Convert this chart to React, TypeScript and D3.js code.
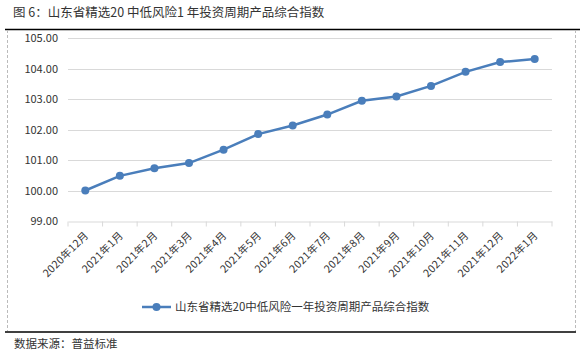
import { useRef, useEffect } from "react";
import * as d3 from "d3";

const categories = [
  "2020年12月", "2021年1月", "2021年2月", "2021年3月", "2021年4月", "2021年5月", "2021年6月",
  "2021年7月", "2021年8月", "2021年9月", "2021年10月", "2021年11月", "2021年12月", "2022年1月",
];
const indexValues = [
  100.0, 100.48, 100.73, 100.9, 101.34, 101.85, 102.13,
  102.49, 102.94, 103.08, 103.43, 103.89, 104.21, 104.31,
];
const yTicks = [99, 100, 101, 102, 103, 104, 105];
const seriesName = "山东省精选20中低风险一年投资周期产品综合指数";
const title = "图 6：山东省精选20 中低风险1 年投资周期产品综合指数";
const source = "数据来源：普益标准";

const BLUE = "#4a7ebb";
const TEXT = "#333";
const FONT = "'Noto Sans CJK SC', 'Noto Sans', sans-serif";

export default function App() {
  const svgRef = useRef<SVGSVGElement>(null);

  useEffect(() => {
    if (!svgRef.current) return;
    const svg = d3.select(svgRef.current);
    svg.selectAll("*").remove();

    const width = 584;
    const height = 353;
    const margin = { left: 68, right: 32, top: 38, bottom: 132 };

    svg.append("rect").attr("width", width).attr("height", height).attr("fill", "#fff");

    // title + frame
    svg.append("text").attr("x", 13).attr("y", 17).attr("font-size", 12.5).attr("fill", TEXT)
      .attr("font-family", FONT).text(title);
    svg.append("line").attr("x1", 5).attr("x2", 580).attr("y1", 29.5).attr("y2", 29.5)
      .attr("stroke", "#000").attr("stroke-width", 1.5);
    svg.append("line").attr("x1", 5).attr("x2", 576).attr("y1", 332).attr("y2", 332)
      .attr("stroke", "#000").attr("stroke-width", 1.5);
    [7, 575].forEach((x) => {
      svg.append("line").attr("x1", x + 0.5).attr("x2", x + 0.5).attr("y1", 30).attr("y2", 331)
        .attr("stroke", "#bbb").attr("stroke-dasharray", "3,2");
    });
    svg.append("text").attr("x", 14).attr("y", 348).attr("font-size", 11.5).attr("fill", TEXT)
      .attr("font-family", FONT).text(source);

    const x = d3.scaleBand<string>().domain(categories)
      .range([margin.left, width - margin.right]);
    const y = d3.scaleLinear().domain([99, 105]).range([221, 38]);

    // gridlines
    svg.append("g").selectAll("line").data(yTicks.filter((t) => t > 99)).enter().append("line")
      .attr("x1", margin.left).attr("x2", width - margin.right)
      .attr("y1", (d) => Math.round(y(d)) + 0.5).attr("y2", (d) => Math.round(y(d)) + 0.5)
      .attr("stroke", "#d9d9d9");

    // y labels
    svg.append("g").selectAll("text").data(yTicks).enter().append("text")
      .attr("x", 58).attr("y", (d) => y(d) + 4).attr("text-anchor", "end")
      .attr("font-size", 11).attr("fill", TEXT).attr("font-family", FONT)
      .text((d) => d.toFixed(2));

    // x axis
    const xAxis = svg.append("g").attr("transform", `translate(0,${Math.round(y(99)) + 0.5})`)
      .call(d3.axisBottom(x).tickSize(5).tickSizeOuter(0).tickFormat(() => ""));
    xAxis.select(".domain").attr("stroke", "#d9d9d9");
    xAxis.selectAll(".tick line").attr("stroke", "#d9d9d9")
      .attr("transform", `translate(${-x.bandwidth() / 2},0)`);
    xAxis.append("line").attr("x1", width - margin.right).attr("x2", width - margin.right)
      .attr("y1", 0).attr("y2", 5).attr("stroke", "#d9d9d9");

    svg.append("g").selectAll("text").data(categories).enter().append("text")
      .attr("transform", (d) => `translate(${x(d)! + x.bandwidth() / 2 + 4},${y(99) + 15}) rotate(-45)`)
      .attr("text-anchor", "end").attr("font-size", 10.5).attr("letter-spacing", 0.4)
      .attr("fill", TEXT).attr("font-family", FONT)
      .text((d) => d);

    // series
    const pts = categories.map((c, i) => [x(c)! + x.bandwidth() / 2, y(indexValues[i])] as [number, number]);
    svg.append("path").attr("d", d3.line()(pts)).attr("fill", "none")
      .attr("stroke", BLUE).attr("stroke-width", 2.5);
    svg.append("g").selectAll("circle").data(pts).enter().append("circle")
      .attr("cx", (d) => d[0]).attr("cy", (d) => d[1]).attr("r", 4).attr("fill", BLUE);

    // legend
    const lg = svg.append("g").attr("transform", "translate(142,307)");
    lg.append("line").attr("x1", 0).attr("x2", 29).attr("stroke", BLUE).attr("stroke-width", 2.5);
    lg.append("circle").attr("cx", 14.5).attr("r", 4).attr("fill", BLUE);
    lg.append("text").attr("x", 33).attr("y", 4).attr("font-size", 11.5).attr("fill", TEXT)
      .attr("font-family", FONT).text(seriesName);
  }, []);

  return (
    <svg ref={svgRef} width={584} height={353}
      style={{ position: "absolute", left: 0, top: 0, display: "block" }} />
  );
}
